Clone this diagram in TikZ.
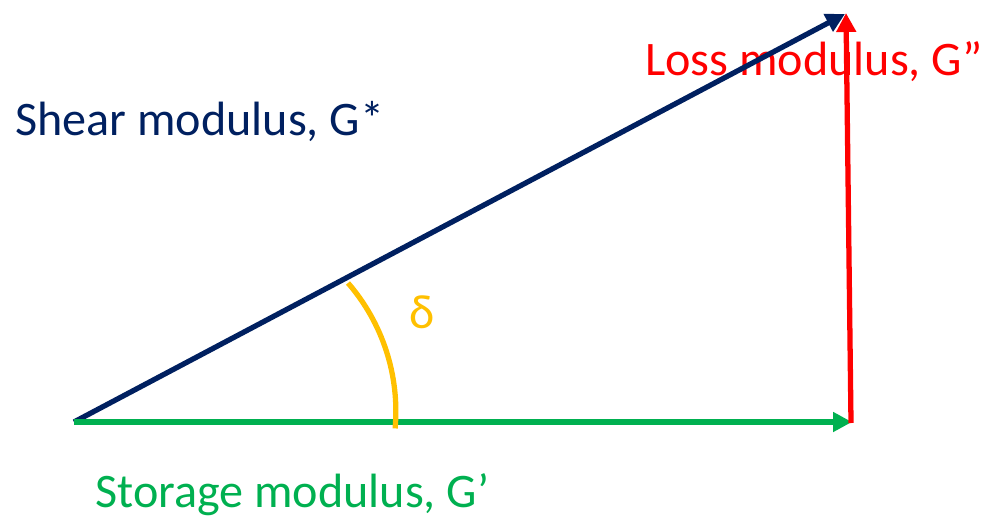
\documentclass[tikz,border=0pt]{standalone}
\usepackage{fontspec}
\setmainfont{Carlito}
\usetikzlibrary{arrows.meta}
\definecolor{marino}{HTML}{002060}
\definecolor{verde}{HTML}{00B050}
\definecolor{rojo}{HTML}{FF0000}
\definecolor{oro}{HTML}{FFC000}

\begin{document}
\begin{tikzpicture}[
      x=0.02cm,y=-0.02cm,
      etiqueta/.style={anchor=base west,inner sep=0pt,
                       font=\fontsize{27.4}{33}\selectfont},
      flecha/.style={-{Triangle[length=0.38cm,width=0.38cm]},line width=3pt}]
    \useasboundingbox (0,0) rectangle (982,523);
    \coordinate (o) at (74,422);
    \coordinate (g1) at (852,422);
    \coordinate (g2) at (846,13);
    \coordinate (gs) at (845,14);
    \node[etiqueta,text=marino] (shear) at (15,136) {Shear modulus, G*};
    \node[etiqueta,text=verde] (storage) at (95,507) {Storage modulus, G’};
    \node[etiqueta,text=rojo] (loss) at (645,76) {Loss modulus, G”};
    \node[etiqueta,anchor=base,text=oro] (delta) at (422,328) {δ};
    \draw[flecha,marino] (o) -- (gs);
    \draw[flecha,verde] (o) -- (g1);
    \draw[flecha,rojo] (851,423) -- (g2);
    \draw[oro,line width=3pt] (348,283) arc[start angle=-40.9,end angle=5,radius=196];
  \end{tikzpicture}
\end{document}
